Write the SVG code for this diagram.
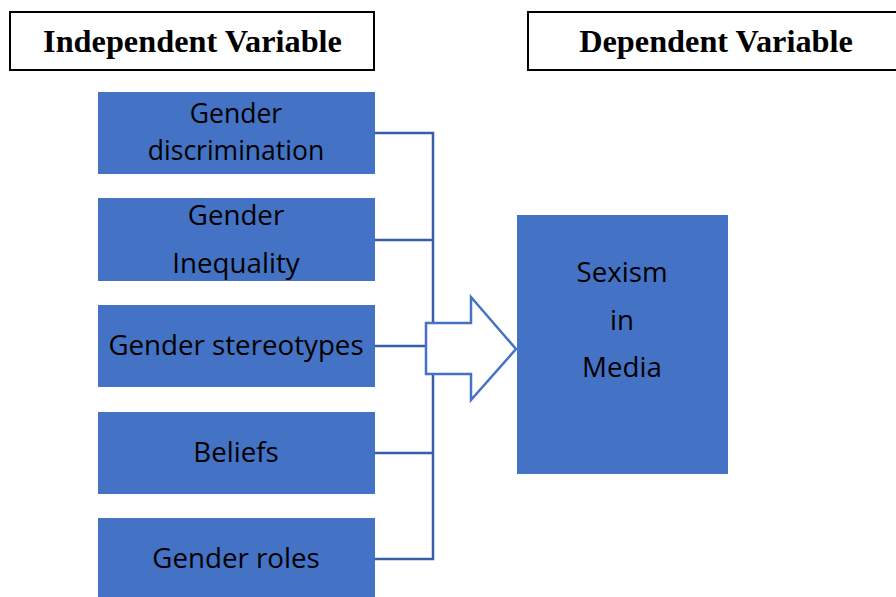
<svg xmlns="http://www.w3.org/2000/svg" width="896" height="597" viewBox="0 0 896 597">
<style>
.hdr{fill:#fff;stroke:#000;stroke-width:2}
.ht{font-family:"Liberation Serif",serif;font-weight:bold;font-size:32.3px;fill:#000;text-anchor:middle}
.box{fill:#4472C4}
.bt{font-family:"Open Sans",sans-serif;font-size:27.7px;fill:#000;text-anchor:middle}
.bt2{font-size:26.5px}
.con{fill:none;stroke:#3A5DA8;stroke-width:2.5}
.arr{fill:#fff;stroke:#4472C4;stroke-width:2.5}
</style>
<rect width="896" height="597" fill="#fff"/>
<g id="hdr-independent">
<rect class="hdr" x="10" y="12" width="364" height="58"/>
<text class="ht" x="192.5" y="52">Independent Variable</text>
</g>
<g id="hdr-dependent">
<rect class="hdr" x="528" y="12" width="380" height="58"/>
<text class="ht" x="716" y="52">Dependent Variable</text>
</g>
<g id="connectors">
<path class="con" d="M375,133H433V559H375M375,240H433M375,346H433M375,453H433"/>
</g>
<g id="arrow">
<polygon class="arr" points="426,323 471,323 471,297 516,349 471,400 471,374 426,374"/>
</g>
<g id="n1">
<rect class="box" x="98" y="92" width="277" height="82"/>
<text class="bt bt2" x="236" y="123">Gender</text>
<text class="bt bt2" x="236" y="160">discrimination</text>
</g>
<g id="n2">
<rect class="box" x="98" y="198" width="277" height="83"/>
<text class="bt" x="236" y="225">Gender</text>
<text class="bt" x="236" y="273">Inequality</text>
</g>
<g id="n3">
<rect class="box" x="98" y="305" width="277" height="82"/>
<text class="bt" x="236" y="355">Gender stereotypes</text>
</g>
<g id="n4">
<rect class="box" x="98" y="412" width="277" height="82"/>
<text class="bt" x="236" y="462">Beliefs</text>
</g>
<g id="n5">
<rect class="box" x="98" y="518" width="277" height="82"/>
<text class="bt" x="236" y="568">Gender roles</text>
</g>
<g id="sexism">
<rect class="box" x="517" y="215" width="211" height="259"/>
<text class="bt" x="622" y="282">Sexism</text>
<text class="bt" x="622" y="330">in</text>
<text class="bt" x="622" y="377">Media</text>
</g>
</svg>
